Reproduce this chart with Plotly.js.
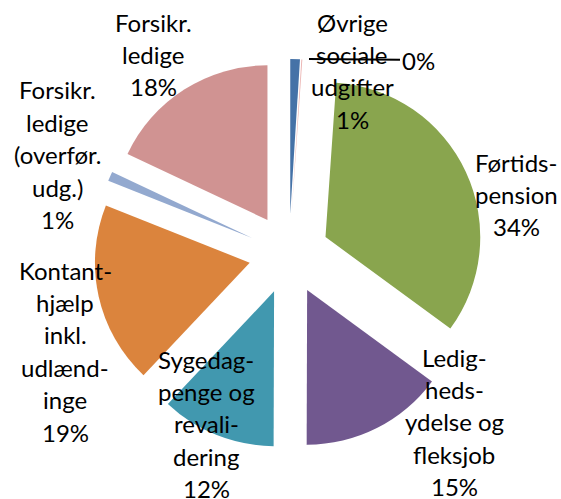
<!DOCTYPE html>
<html><head><meta charset="utf-8">
<script src="https://cdn.plot.ly/plotly-3.0.1.min.js"></script>
<style>html,body{margin:0;padding:0;background:#fff}</style>
</head><body><div id="chart" style="width:561px;height:499px"></div>
<script>
// ---- data ----
const categories = ["Øvrige sociale udgifter", "Øvrige (0%)", "Førtidspension", "Ledighedsydelse og fleksjob", "Sygedagpenge og revalidering", "Kontanthjælp inkl. udlændinge", "Forsikr. ledige (overfør. udg.)", "Forsikr. ledige"];
const labelLines = [["Øvrige","sociale","udgifter"], [], ["Førtids-","pension"], ["Ledig-","heds-","ydelse og","fleksjob"], ["Sygedag-","penge og","revali-","dering"], ["Kontant-","hjælp","inkl.","udlænd-","inge"], ["Forsikr.","ledige","(overfør.","udg.)"], ["Forsikr.","ledige"]];
const values = [1, 0.1, 34, 15, 12, 19, 1, 18];

// ---- style ----
const colors = ["#4572A7", "#EBB4B2", "#89A54E", "#71588F", "#4198AF", "#DB843D", "#93A9CF", "#D09392"];
const labelX = [352, 418, 516, 454, 206, 65, 57, 153];   // pixel centers
const labelY = [22, 60, 162, 357, 359, 270, 90, 22];
const lineStep = 32.4;
const W = 561, H = 499;
const px = x => x / W, py = y => 1 - y / H;
const FONT = {family: "Lato, 'Open Sans', sans-serif", size: 24, color: "#000"};

const total = values.reduce((a, b) => a + b, 0);
const pct = values.map(v => Math.round(v / total * 100) + "%");

const annotations = [];
labelLines.forEach((lines, i) => {
  const all = lines.concat([pct[i]]);
  if (lines.length === 0) {
    annotations.push({
      xref: "paper", yref: "paper", x: px(309), y: py(59),
      text: pct[i], showarrow: true, arrowhead: 0, arrowwidth: 2, arrowcolor: "#000",
      ax: labelX[i] - 309, ay: labelY[i] - 59, font: FONT, xanchor: "center", yanchor: "middle"
    });
    return;
  }
  all.forEach((t, k) => {
    annotations.push({
      xref: "paper", yref: "paper", x: px(labelX[i]), y: py(labelY[i] + k * lineStep),
      text: t, showarrow: false, font: FONT, xanchor: "center", yanchor: "middle"
    });
  });
});

const trace = {
  type: "pie", labels: categories, values: values, sort: false,
  direction: "clockwise", rotation: 0,
  pull: values.map(() => 0.26),
  marker: {colors: colors, line: {width: 0}},
  textinfo: "none", hoverinfo: "label+percent",
  domain: {x: [94 / W, 484 / W], y: [1 - 449 / H, 1 - 59 / H]}
};

Plotly.newPlot("chart", [trace], {
  width: W, height: H, showlegend: false,
  margin: {l: 0, r: 0, t: 0, b: 0},
  paper_bgcolor: "#fff", plot_bgcolor: "#fff",
  annotations: annotations
}, {displayModeBar: false, staticPlot: true});
</script></body></html>
